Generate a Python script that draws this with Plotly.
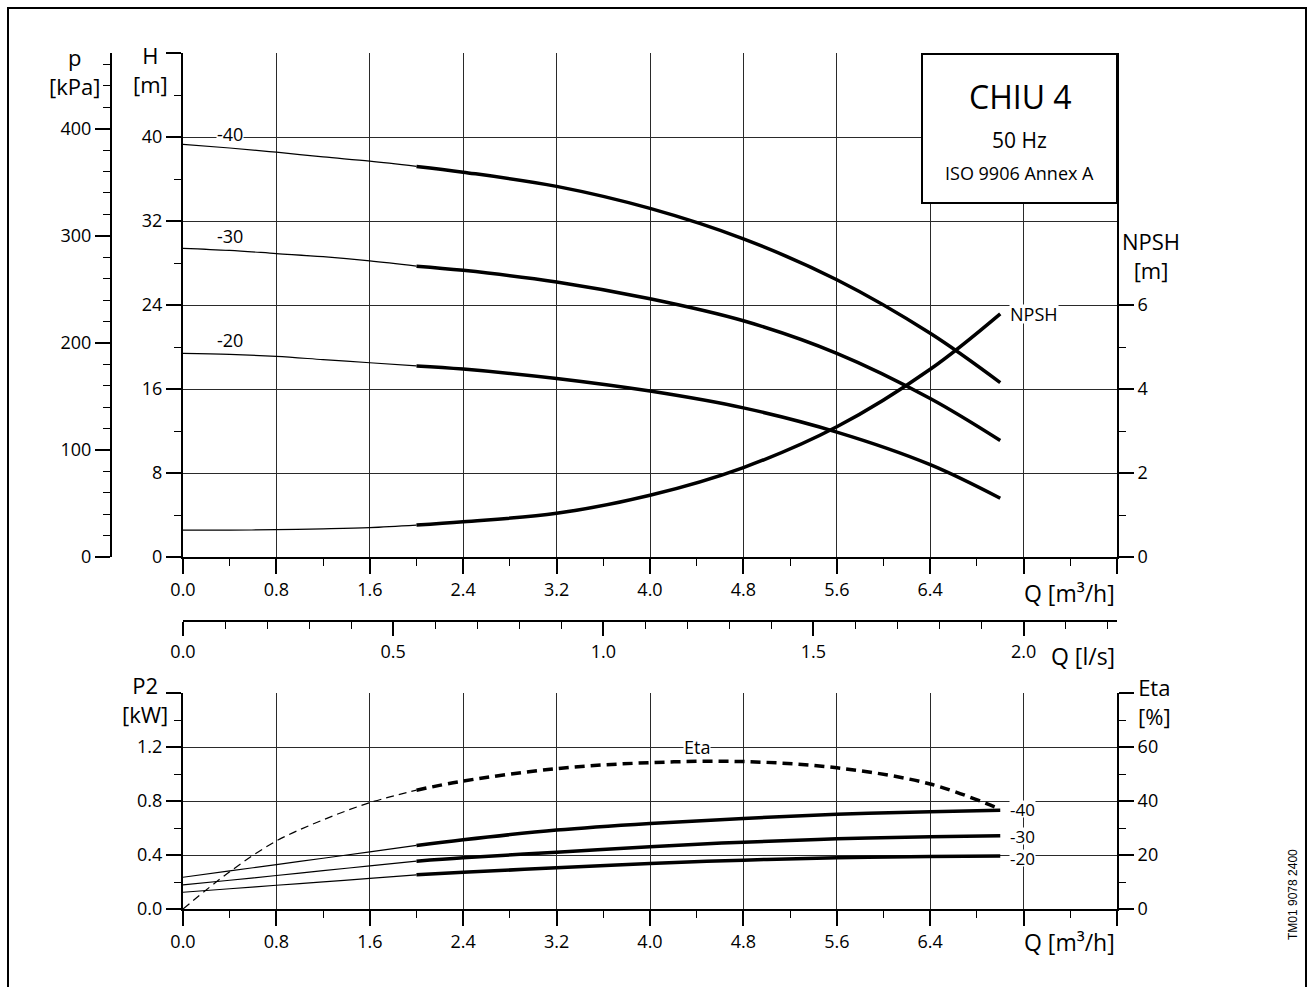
import numpy as np
import plotly.graph_objects as go

W, HT = 1308, 987

# ---------------- data ----------------
q = [0.0, 0.4, 0.8, 1.2, 1.6, 2.0, 2.4, 3.2, 4.0, 4.8, 5.6, 6.4, 7.0]   # Q [m3/h]
q_split = 2.0   # thin line below, thick line above

head_40 = [39.3, 38.95, 38.55, 38.1, 37.7, 37.2, 36.65, 35.3, 33.2, 30.3, 26.4, 21.3, 16.6]
head_30 = [29.4, 29.2, 28.9, 28.6, 28.2, 27.7, 27.3, 26.2, 24.6, 22.5, 19.4, 15.1, 11.1]
head_20 = [19.4, 19.3, 19.1, 18.8, 18.5, 18.2, 17.9, 17.0, 15.8, 14.2, 11.9, 8.8, 5.6]
npsh = [0.64, 0.64, 0.65, 0.67, 0.70, 0.76, 0.84, 1.04, 1.47, 2.13, 3.10, 4.47, 5.79]

p2_40 = [0.235, 0.282, 0.329, 0.376, 0.423, 0.471, 0.513, 0.585, 0.634, 0.671, 0.701, 0.721, 0.731]
p2_30 = [0.178, 0.213, 0.248, 0.284, 0.319, 0.354, 0.379, 0.421, 0.462, 0.495, 0.520, 0.535, 0.542]
p2_20 = [0.124, 0.150, 0.176, 0.201, 0.227, 0.253, 0.272, 0.305, 0.337, 0.362, 0.379, 0.389, 0.392]
eta = [0.0, 13.8, 25.2, 33.0, 39.4, 44.0, 47.4, 52.0, 54.2, 54.6, 52.3, 46.3, 37.0]

curve_names = ["-40", "-30", "-20"]

q_ticks = [round(i * 0.8, 1) for i in range(11)]
q_ticktext = ["0.0", "0.8", "1.6", "2.4", "3.2", "4.0", "4.8", "5.6", "6.4", "", ""]
q_minor = [round(0.4 + i * 0.8, 1) for i in range(10)]
ls_ticks = [0.0, 0.5, 1.0, 1.5, 2.0]
ls_ticktext = ["0.0", "0.5", "1.0", "1.5", "2.0"]
ls_minor = [round(i * 0.1, 1) for i in range(23) if i % 5 != 0]
h_ticks = [0, 8, 16, 24, 32, 40, 48]
h_ticktext = ["0", "8", "16", "24", "32", "40", ""]
h_minor = [4, 12, 20, 28, 36, 44]
p_ticks = [0, 100, 200, 300, 400]
p_minor = [v for v in range(20, 480, 20) if v % 100 != 0]
npsh_ticks = [0, 2, 4, 6]
npsh_minor = [1, 3, 5]
p2_ticks = [0.0, 0.4, 0.8, 1.2, 1.6]
p2_ticktext = ["0.0", "0.4", "0.8", "1.2", ""]
p2_minor = [0.2, 0.6, 1.0, 1.4]
eta_ticks = [0, 20, 40, 60, 80]
eta_ticktext = ["0", "20", "40", "60", ""]
eta_minor = [10, 30, 50, 70]

H_MAX = 48
KPA_PER_M = 9.807

FONT = "Open Sans"
TICK_SIZE = 18
LABEL_SIZE = 18


def px(x):
    return x / W


def py(y):
    return 1 - y / HT


fig = go.Figure()
qa = np.array(q)
thin = qa <= q_split
thick = qa >= q_split


def add_curve(vals, xaxis, yaxis, dash_thin="solid", dash_thick="solid"):
    va = np.array(vals)
    fig.add_trace(go.Scatter(x=qa[thin], y=va[thin], mode="lines", xaxis=xaxis, yaxis=yaxis,
                             line=dict(color="black", width=1.2, dash=dash_thin, shape="spline",
                                       smoothing=1.0),
                             hoverinfo="skip", showlegend=False))
    fig.add_trace(go.Scatter(x=qa[thick], y=va[thick], mode="lines", xaxis=xaxis, yaxis=yaxis,
                             line=dict(color="black", width=3.5, dash=dash_thick, shape="spline",
                                       smoothing=1.0),
                             hoverinfo="skip", showlegend=False))


for vals in (head_40, head_30, head_20):
    add_curve(vals, "x", "y")
add_curve(npsh, "x", "y4")
for vals in (p2_40, p2_30, p2_20):
    add_curve(vals, "x3", "y3")
add_curve(eta, "x3", "y5", dash_thin="8px,5px", dash_thick="10px,6px")

# helper traces so the auxiliary axes are drawn
fig.add_trace(go.Scatter(x=[0, 8 / 3.6], y=[None, None], xaxis="x2", yaxis="y",
                         mode="lines", hoverinfo="skip", showlegend=False))
fig.add_trace(go.Scatter(x=[0, 8], y=[None, None], xaxis="x", yaxis="y2",
                         mode="lines", hoverinfo="skip", showlegend=False))

tickfont = dict(family=FONT, size=TICK_SIZE, color="black")
GRID = "#2a2a2a"


def ax_common(**kw):
    d = dict(showline=True, linewidth=2, linecolor="black", ticks="outside", ticklen=15,
             tickwidth=2, tickcolor="black", tickfont=tickfont, zeroline=False,
             fixedrange=True, tickmode="array", automargin=False)
    d.update(kw)
    return d


def minor(vals, show_grid=False):
    return dict(tickmode="array", tickvals=vals, ticks="outside", ticklen=7, tickwidth=1,
                tickcolor="black", showgrid=show_grid)


xdom = [px(183), px(1117)]
top_dom = [py(557), py(53)]
bot_dom = [py(909), py(693)]

fig.update_layout(
    template="none",
    width=W, height=HT, autosize=False,
    margin=dict(l=0, r=0, t=0, b=0, pad=0),
    paper_bgcolor="white", plot_bgcolor="white",
    hovermode=False, showlegend=False,
    font=dict(family=FONT, color="black"),
    xaxis=ax_common(domain=xdom, anchor="y", range=[0, 8], tickvals=q_ticks, ticktext=q_ticktext,
                    showgrid=True, gridcolor=GRID, gridwidth=1, minor=minor(q_minor)),
    yaxis=ax_common(domain=top_dom, anchor="x", range=[0, H_MAX], tickvals=h_ticks,
                    ticktext=h_ticktext, showgrid=True, gridcolor=GRID, gridwidth=1,
                    minor=minor(h_minor)),
    yaxis2=ax_common(overlaying="y", anchor="free", position=px(111), side="left",
                     range=[0, H_MAX * KPA_PER_M], tickvals=p_ticks,
                     ticktext=[str(v) for v in p_ticks], showgrid=False, minor=minor(p_minor)),
    yaxis4=ax_common(overlaying="y", anchor="x", side="right", range=[0, H_MAX / 4],
                     tickvals=npsh_ticks, ticktext=[str(v) for v in npsh_ticks],
                     showgrid=False, minor=minor(npsh_minor)),
    xaxis2=ax_common(overlaying="x", anchor="free", position=py(621), side="bottom",
                     range=[0, 8 / 3.6], tickvals=ls_ticks, ticktext=ls_ticktext, ticklen=14,
                     showgrid=False, minor=minor(ls_minor)),
    xaxis3=ax_common(domain=xdom, anchor="y3", range=[0, 8], tickvals=q_ticks,
                     ticktext=q_ticktext, showgrid=True, gridcolor=GRID, gridwidth=1,
                     minor=minor(q_minor)),
    yaxis3=ax_common(domain=bot_dom, anchor="x3", range=[0, 1.6], tickvals=p2_ticks,
                     ticktext=p2_ticktext, showgrid=True, gridcolor=GRID, gridwidth=1,
                     minor=minor(p2_minor)),
    yaxis5=ax_common(overlaying="y3", anchor="x3", side="right", range=[0, 80],
                     tickvals=eta_ticks, ticktext=eta_ticktext, showgrid=False,
                     minor=minor(eta_minor)),
)

# frame and info box
fig.add_shape(type="rect", xref="paper", yref="paper", x0=px(8), x1=px(1306), y0=py(1000), y1=py(8),
              line=dict(color="black", width=2), fillcolor="rgba(0,0,0,0)", layer="above")
fig.add_shape(type="rect", xref="paper", yref="paper", x0=px(922), x1=px(1117), y0=py(203), y1=py(54),
              line=dict(color="black", width=2), fillcolor="white", layer="above")

ann = []


def label(text, x, y, size=22, xanchor="center", yanchor="middle", **kw):
    ann.append(dict(text=text, x=px(x), y=py(y), xref="paper", yref="paper", showarrow=False,
                    xanchor=xanchor, yanchor=yanchor, align="center",
                    font=dict(family=FONT, size=size, color="black"), **kw))


# axis titles (two-line)
label("p<br>[kPa]", 74, 71)
label("H<br>[m]", 150, 70)
label("NPSH<br>[m]", 1151, 256)
label("P2<br>[kW]", 145, 699)
label("Eta<br>[%]", 1154, 701)
label("Q [m³/h]", 1117, 593, size=23, xanchor="right")
label("Q [l/s]", 1117, 656, size=23, xanchor="right")
label("Q [m³/h]", 1117, 942, size=23, xanchor="right")

# info box text
label("CHIU 4", 1020, 96, size=32)
label("50 Hz", 1019, 140, size=21)
label("ISO 9906 Annex A", 1019, 173, size=18)

# drawing number
ann.append(dict(text="TM01 9078 2400", x=px(1293), y=py(895), xref="paper", yref="paper",
                showarrow=False, textangle=-90, xanchor="center", yanchor="middle",
                font=dict(family="Liberation Sans", size=12, color="black")))

lab_font = dict(family=FONT, size=LABEL_SIZE, color="black")
# curve labels (top, left side)
for name, vals in zip(curve_names, (head_40, head_30, head_20)):
    ann.append(dict(text=name, x=q[1], y=float(np.interp(q[1], q, vals)), xref="x", yref="y",
                    showarrow=False, yshift=14, bgcolor="white", borderpad=0, height=18,
                    font=lab_font))
ann.append(dict(text="NPSH", x=q[-1], y=npsh[-1], xref="x", yref="y4", showarrow=False,
                xanchor="left", xshift=9, bgcolor="white", borderpad=0, height=18,
                font=lab_font))
# curve labels (bottom, right side)
for name, vals, shift in zip(curve_names, (p2_40, p2_30, p2_20), (1, 0, -2)):
    ann.append(dict(text=name, x=q[-1], y=vals[-1], xref="x3", yref="y3", showarrow=False,
                    xanchor="left", xshift=9, yshift=shift, bgcolor="white", borderpad=0,
                    height=16, font=dict(family=FONT, size=17, color="black")))
ann.append(dict(text="Eta", x=4.4, y=float(np.interp(4.4, q, eta)), xref="x3", yref="y5",
                showarrow=False, yshift=15, bgcolor="white", borderpad=0, height=18,
                font=lab_font))

fig.update_layout(annotations=ann)

fig.write_html("out.html")
